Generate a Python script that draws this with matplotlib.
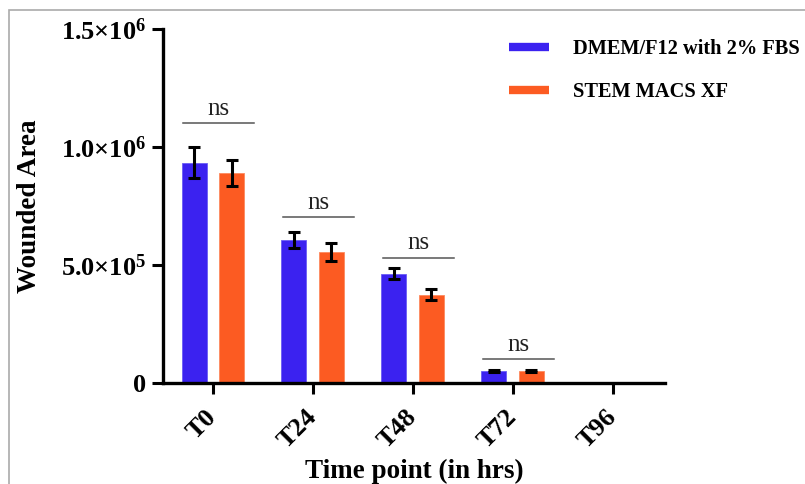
import numpy as np
import matplotlib.pyplot as plt
from matplotlib.lines import Line2D
from matplotlib.patches import Rectangle

plt.rcParams['font.family'] = ['Liberation Serif', 'DejaVu Serif']
plt.rcParams['mathtext.fontset'] = 'custom'
plt.rcParams['mathtext.rm'] = 'Liberation Serif:bold'
plt.rcParams['mathtext.bf'] = 'Liberation Serif:bold'

times = ['T0', 'T24', 'T48', 'T72', 'T96']
dmem = [933000, 607000, 464000, 50000, 0]
dmem_err = [65000, 34000, 25000, 5000, 0]
stem = [888000, 555000, 374000, 50000, 0]
stem_err = [55000, 37000, 24000, 3000, 0]
ns_y = [1101000, 702000, 530000, 100000]
labels = ['DMEM/F12 with 2% FBS', 'STEM MACS XF']

blue = '#3b22f0'
orange = '#fc5b22'

fig = plt.figure(figsize=(8.05, 4.84), dpi=100)
ax = fig.add_axes([0.2025, 0.2087, 0.6235, 0.7313])

x = np.arange(len(times))
w = 0.25
ax.bar(x - 0.19, dmem, w, color=blue, edgecolor='#6a5cf5', lw=0.6)
ax.bar(x + 0.185, stem, w, color=orange, edgecolor='#fd8a5e', lw=0.6)
for xs, v, e in [(x - 0.19, dmem, dmem_err), (x + 0.185, stem, stem_err)]:
    for xi, vi, ei in zip(xs, v, e):
        if vi > 0:
            ax.errorbar(xi, vi, yerr=ei, color='k', lw=2.2, capsize=4.5, capthick=2.2)

for i, y in enumerate(ns_y):
    ax.plot([i - 0.30, i + 0.41], [y, y], color='#555555', lw=1.1)
    ax.text(i + 0.05, y + 15000, 'ns', ha='center', va='bottom', fontsize=18, color='#222222')

ax.set_xlim(-0.5, 4.52)
ax.set_ylim(0, 1.5e6)
ax.set_yticks([0, 5e5, 1e6, 1.5e6])
ax.set_yticklabels(['0', r'$\mathrm{5.0{\times}10^5}$', r'$\mathrm{1.0{\times}10^6}$',
                    r'$\mathrm{1.5{\times}10^6}$'], fontsize=19, fontweight='bold')
ax.set_xticks(x)
ax.set_xticklabels(times, fontsize=19, fontweight='bold', rotation=45, ha='right',
                   rotation_mode='anchor', va='center')
ax.tick_params(width=2.2, length=8, direction='out', pad=4)
ax.tick_params(axis='x', pad=14)
for s in ['top', 'right']:
    ax.spines[s].set_visible(False)
for s in ['left', 'bottom']:
    ax.spines[s].set_linewidth(2.4)

ax.set_ylabel('Wounded Area', fontsize=19.5, fontweight='bold', labelpad=14)
ax.set_xlabel('Time point (in hrs)', fontsize=19.5, fontweight='bold', labelpad=4)

handles = [Line2D([], [], color=blue, lw=6, solid_capstyle='butt'),
           Line2D([], [], color=orange, lw=6, solid_capstyle='butt')]
fig.legend(handles, labels, loc='upper left', bbox_to_anchor=(0.609, 0.958), frameon=False,
           prop={'family': 'Liberation Serif', 'weight': 'bold', 'size': 14.7},
           handlelength=1.96, handletextpad=1.17, labelspacing=1.15, borderpad=0.4)

fig.patches.append(Rectangle((9 / 805, -0.1), 1.2, 1.1 - 10 / 484, transform=fig.transFigure,
                             fill=False, edgecolor='#aaaaaa', lw=1.2))

fig.savefig('out.png', dpi=100)
